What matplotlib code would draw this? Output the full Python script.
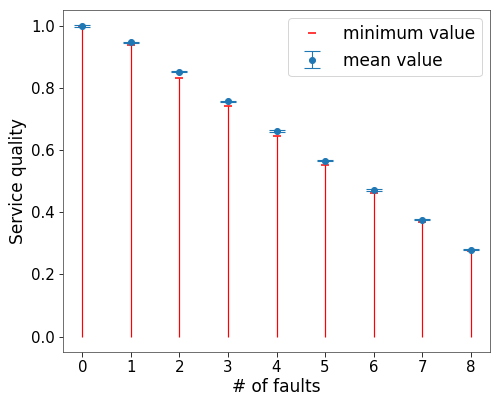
from matplotlib import pyplot as plt
import numpy as np

## Data ------------------------------------------------------------
faults = [0, 1, 2, 3, 4, 5, 6, 7, 8]
mean_quality = [1.0, 0.948, 0.853, 0.757, 0.662, 0.566, 0.472, 0.376, 0.280]
mean_err = [0.002, 0.002, 0.002, 0.002, 0.002, 0.002, 0.002, 0.002, 0.002]
min_quality = [1.0, 0.940, 0.831, 0.741, 0.645, 0.551, 0.461, 0.369, 0.277]

## Set up plot ------------------------------------------------------------
fsize = 17
plt.rc("font", size=fsize)
plt.rc("axes", labelsize=fsize)
plt.rc("xtick", labelsize=15)
plt.rc("ytick", labelsize=15)
plt.rc("legend", fontsize=fsize)

dpi = 72
fig, ax = plt.subplots(figsize=(492 / dpi, 393 / dpi), dpi=dpi)
fig.subplots_adjust(left=0.128, right=0.996, top=0.975, bottom=0.104)

ax.vlines(faults, 0, min_quality, color="red", lw=1.2)
ax.plot(
    faults, min_quality, "_", color="red", markersize=8, mew=1.5,
    label="minimum value",
)
ax.errorbar(
    faults,
    mean_quality,
    yerr=mean_err,
    fmt="o",
    color="tab:blue",
    markersize=6,
    capsize=8,
    capthick=1.1,
    elinewidth=1.1,
    label="mean value",
)

ax.set_xticks(faults)
ax.set_yticks([0.0, 0.2, 0.4, 0.6, 0.8, 1.0])
ax.tick_params(length=4.5)
ax.set_xlabel("# of faults", labelpad=3)
ax.set_ylabel("Service quality")
for s in ax.spines.values():
    s.set_color("0.3")

ax.legend(loc="upper right")
fig.savefig("out.png", dpi=dpi)
